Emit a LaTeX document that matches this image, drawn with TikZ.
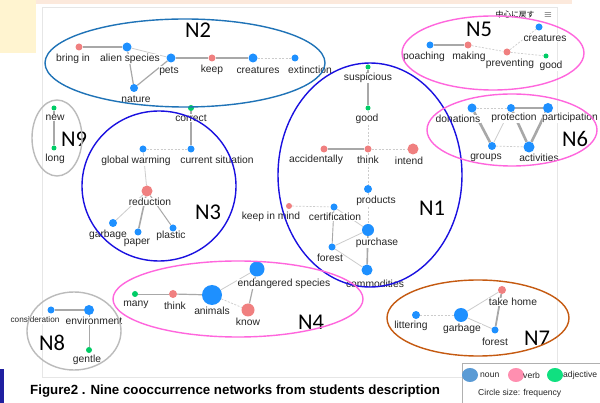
\documentclass[tikz,border=0pt]{standalone}
\usepackage{fontspec}
\setmainfont{Liberation Sans}
\newfontfamily\nfont{Carlito}
\newfontfamily\cjk{Noto Sans CJK JP}
\usetikzlibrary{shapes.geometric}
\definecolor{nblue}{HTML}{1E90FF}
\definecolor{npink}{HTML}{F08080}
\definecolor{ngreen}{HTML}{00CC66}
\definecolor{egray}{HTML}{A8A8A8}
\definecolor{elight}{HTML}{CCCCCC}
\definecolor{cN2}{HTML}{1F73B7}
\definecolor{cN1}{HTML}{1A10E0}
\definecolor{cpink}{HTML}{FF66DD}
\definecolor{cgray}{HTML}{BBBBBB}
\definecolor{cN7}{HTML}{C55A11}
\definecolor{bgpeach}{HTML}{FCE9DC}
\definecolor{bgyel}{HTML}{FFF4D0}
\definecolor{bardark}{HTML}{2020A0}
\definecolor{panelc}{HTML}{E6E6E6}
\definecolor{legc}{HTML}{B0B0B0}
\definecolor{lgblue}{HTML}{5B9BD5}
\definecolor{lgpink}{HTML}{FF8FB0}
\definecolor{lggreen}{HTML}{10E080}
\pgfdeclarelayer{back}
\pgfdeclarelayer{bg}
\pgfdeclarelayer{lab}
\pgfdeclarelayer{front}
\pgfsetlayers{back,bg,lab,main,front}
\tikzset{
  dot/.style={circle,fill=#1,draw=none,inner sep=0pt},
  lbl/.style={inner sep=0.6pt,fill=white,font=\fontsize{10.3}{11}\selectfont,text=black!85},
  lgl/.style={inner sep=0pt,font=\fontsize{8.6}{9}\selectfont,text=black!85},
  nlab/.style={inner sep=0pt,font=\nfont\fontsize{22.5}{23}\selectfont},
  eg/.style={draw=egray,line width=1.2pt},
  ethick/.style={draw=egray,line width=2.6pt},
  ed/.style={draw=elight,line width=0.7pt,dash pattern=on 2pt off 1.5pt},
  el/.style={draw=elight,line width=0.8pt},
  grp/.style={line width=1.4pt},
  lgdot/.style={ellipse,fill=#1,minimum width=16pt,minimum height=14pt,inner sep=0pt}
}
\begin{document}
\begin{tikzpicture}[x=1pt,y=-1pt]
\useasboundingbox (0,0) rectangle (600,403);
\begin{pgfonlayer}{back}
\fill[white] (0,0) rectangle (600,403);
\fill[bgpeach] (0,0) rectangle (572,4);
\fill[bgyel] (0,0) rectangle (36,53);
\fill[bardark] (0,369) rectangle (4,403);
\draw[panelc,line width=0.6pt] (42,377) |- (557,7) -- (557,363);
\draw[panelc,line width=0.6pt] (42,377) -- (462,377);
\end{pgfonlayer}
\node[inner sep=0pt,font=\cjk\fontsize{7.8}{8}\selectfont] (back) at (515,15) {中心に戻す};
\node[inner sep=0pt,font=\fontsize{10}{10}\selectfont] (menu) at (548,15) {$\equiv$};

% ---------- group outlines ----------
\begin{pgfonlayer}{front}
\draw[cN2,grp] (185,63) ellipse [x radius=140,y radius=44];
\draw[cgray,grp] (57,138) ellipse [x radius=25,y radius=38];
\draw[cN1,grp] (159,186) ellipse [x radius=77,y radius=75];
\draw[cN1,grp] (370,175) ellipse [x radius=92,y radius=112];
\draw[cpink,grp] (493,53) ellipse [x radius=91,y radius=37];
\draw[cpink,grp] (512,130) ellipse [x radius=85,y radius=36];
\draw[cpink,grp] (238,299) ellipse [x radius=125,y radius=38];
\draw[cgray,grp] (74,331) ellipse [x radius=47,y radius=39];
\draw[cN7,grp] (478,318) ellipse [x radius=91,y radius=38];
\end{pgfonlayer}

% ---------- N2 ----------
\node[nlab] (N2) at (198,30) {N2};
\node[dot=npink,minimum size=7pt] (bi) at (79,47) {};
\node[dot=nblue,minimum size=9pt] (as) at (127,47) {};
\node[dot=nblue,minimum size=9pt] (pets) at (171,58) {};
\node[dot=npink,minimum size=7pt] (keep) at (212,58) {};
\node[dot=nblue,minimum size=9pt] (cre2) at (253,58) {};
\node[dot=nblue,minimum size=7pt] (ext) at (295,58) {};
\node[dot=nblue,minimum size=8pt] (nat) at (134,88) {};
\begin{pgfonlayer}{lab}
\node[lbl] (bi-l) at (73,59) {bring in};
\node[lbl] (as-l) at (130,59) {alien species};
\node[lbl] (pets-l) at (169,71) {pets};
\node[lbl] (keep-l) at (212,70) {keep};
\node[lbl] (cre2-l) at (258,70) {creatures};
\node[lbl] (ext-l) at (310,70) {extinction};
\node[lbl] (nat-l) at (136,99) {nature};
\end{pgfonlayer}
\begin{pgfonlayer}{bg}
\draw[eg] (bi) -- (as);
\draw[el] (as) -- (pets);
\draw[eg] (as) -- (nat);
\draw[eg] (nat) -- (pets);
\draw[eg] (pets) -- (keep);
\draw[eg] (keep) -- (cre2);
\draw[ed] (cre2) -- (ext);
\end{pgfonlayer}

% ---------- N9 ----------
\node[nlab] (N9) at (74,139) {N9};
\node[dot=ngreen,minimum size=5pt] (new) at (54,108) {};
\node[dot=ngreen,minimum size=5pt] (long) at (54,148) {};
\begin{pgfonlayer}{lab}
\node[lbl] (new-l) at (55,118) {new};
\node[lbl] (long-l) at (55,159) {long};
\end{pgfonlayer}
\begin{pgfonlayer}{bg}
\draw[ethick] (new) -- (long);
\end{pgfonlayer}

% ---------- N3 ----------
\node[nlab] (N3) at (208,212) {N3};
\node[dot=ngreen,minimum size=6pt] (cor) at (191,108) {};
\node[dot=nblue,minimum size=7pt] (cs) at (191,149) {};
\node[dot=nblue,minimum size=7pt] (gw) at (143,149) {};
\node[dot=npink,minimum size=11pt] (red) at (147,191) {};
\node[dot=nblue,minimum size=8pt] (gar3) at (113,223) {};
\node[dot=nblue,minimum size=7pt] (pap) at (138,232) {};
\node[dot=nblue,minimum size=7pt] (pla) at (173,228) {};
\begin{pgfonlayer}{lab}
\node[lbl] (cor-l) at (191,118) {correct};
\node[lbl] (cs-l) at (217,160) {current situation};
\node[lbl] (gw-l) at (136,161) {global warming};
\node[lbl] (red-l) at (150,202) {reduction};
\node[lbl] (gar3-l) at (108,235) {garbage};
\node[lbl] (pap-l) at (137,243) {paper};
\node[lbl] (pla-l) at (171,236) {plastic};
\end{pgfonlayer}
\begin{pgfonlayer}{bg}
\draw[eg] (cor) -- (cs);
\draw[ed] (gw) -- (cs);
\draw[el] (gw) -- (red);
\draw[el] (red) -- (gar3);
\draw[eg,line width=1.6pt] (red) -- (pap);
\draw[eg,line width=1pt] (red) -- (pla);
\end{pgfonlayer}

% ---------- N1 ----------
\node[nlab] (N1) at (432,208) {N1};
\node[dot=ngreen,minimum size=5pt] (sus) at (368,67) {};
\node[dot=ngreen,minimum size=5pt] (good1) at (368,108) {};
\node[dot=npink,minimum size=7pt] (acc) at (324,149) {};
\node[dot=npink,minimum size=7pt] (thk1) at (368,149) {};
\node[dot=npink,minimum size=11pt] (int) at (413,149) {};
\node[dot=nblue,minimum size=8pt] (prod) at (368,189) {};
\node[dot=npink,minimum size=6pt] (kim) at (289,206) {};
\node[dot=nblue,minimum size=7pt] (cert) at (334,207) {};
\node[dot=nblue,minimum size=12pt] (pur) at (368,230) {};
\node[dot=nblue,minimum size=7pt] (for1) at (332,247) {};
\node[dot=nblue,minimum size=11pt] (com) at (367,270) {};
\begin{pgfonlayer}{lab}
\node[lbl] (sus-l) at (368,78) {suspicious};
\node[lbl] (good1-l) at (367,119) {good};
\node[lbl] (acc-l) at (316,160) {accidentally};
\node[lbl] (thk1-l) at (368,160) {think};
\node[lbl] (int-l) at (409,161) {intend};
\node[lbl] (prod-l) at (376,201) {products};
\node[lbl] (kim-l) at (271,217) {keep in mind};
\node[lbl] (cert-l) at (335,217) {certification};
\node[lbl] (pur-l) at (377,243) {purchase};
\node[lbl] (for1-l) at (330,258) {forest};
\node[lbl] (com-l) at (375,284) {commodities};
\end{pgfonlayer}
\begin{pgfonlayer}{bg}
\draw[ethick] (sus) -- (good1);
\draw[ed] (good1) -- (thk1);
\draw[eg] (acc) -- (thk1);
\draw[ed] (thk1) -- (int);
\draw[ed] (thk1) -- (prod);
\draw[ed] (kim) -- (cert);
\draw[ed] (prod) -- (pur);
\draw[el] (cert) -- (pur);
\draw[eg,line width=0.9pt] (cert) -- (for1);
\draw[el] (for1) -- (pur);
\draw[el] (for1) -- (com);
\draw[eg,line width=1.6pt] (pur) -- (com);
\end{pgfonlayer}

% ---------- N5 ----------
\node[nlab] (N5) at (479,29) {N5};
\node[dot=nblue,minimum size=7pt] (poa) at (430,45) {};
\node[dot=npink,minimum size=7pt] (mak) at (468,45) {};
\node[dot=npink,minimum size=7pt] (pre) at (507,52) {};
\node[dot=ngreen,minimum size=5pt] (good5) at (546,56) {};
\node[dot=nblue,minimum size=7pt] (cre5) at (539,27) {};
\begin{pgfonlayer}{lab}
\node[lbl] (poa-l) at (424,57) {poaching};
\node[lbl] (mak-l) at (469,57) {making};
\node[lbl] (pre-l) at (510,64) {preventing};
\node[lbl] (good5-l) at (551,66) {good};
\node[lbl] (cre5-l) at (545,38) {creatures};
\end{pgfonlayer}
\begin{pgfonlayer}{bg}
\draw[eg] (poa) -- (mak);
\draw[ed] (mak) -- (pre);
\draw[ed] (pre) -- (cre5);
\draw[ed] (pre) -- (good5);
\end{pgfonlayer}

% ---------- N6 ----------
\node[nlab] (N6) at (575,139) {N6};
\node[dot=nblue,minimum size=9pt] (don) at (472,108) {};
\node[dot=nblue,minimum size=8pt] (prot) at (511,108) {};
\node[dot=nblue,minimum size=10pt] (part) at (548,108) {};
\node[dot=nblue,minimum size=8pt] (grp6) at (492,146) {};
\node[dot=nblue,minimum size=11pt] (act) at (529,147) {};
\begin{pgfonlayer}{lab}
\node[lbl] (don-l) at (458,119) {donations};
\node[lbl] (prot-l) at (514,118) {protection};
\node[lbl] (part-l) at (570,118) {participation};
\node[lbl] (grp6-l) at (486,158) {groups};
\node[lbl] (act-l) at (539,158) {activities};
\end{pgfonlayer}
\begin{pgfonlayer}{bg}
\draw[ed] (don) -- (prot);
\draw[eg] (prot) -- (part);
\draw[ethick] (don) -- (grp6);
\draw[el] (prot) -- (grp6);
\draw[ed] (grp6) -- (act);
\draw[ethick] (prot) -- (act);
\draw[ethick] (part) -- (act);
\end{pgfonlayer}

% ---------- N4 ----------
\node[nlab] (N4) at (311,322) {N4};
\node[dot=ngreen,minimum size=6pt] (many) at (135,294) {};
\node[dot=npink,minimum size=8pt] (thk4) at (173,294) {};
\node[dot=nblue,minimum size=20pt] (ani) at (212,295) {};
\node[dot=nblue,minimum size=15pt] (end) at (257,269) {};
\node[dot=npink,minimum size=13pt] (know) at (248,310) {};
\begin{pgfonlayer}{lab}
\node[lbl] (many-l) at (136,305) {many};
\node[lbl] (thk4-l) at (175,306) {think};
\node[lbl] (ani-l) at (212,311) {animals};
\node[lbl] (end-l) at (284,284) {endangered species};
\node[lbl] (know-l) at (248,322) {know};
\end{pgfonlayer}
\begin{pgfonlayer}{bg}
\draw[eg,line width=0.8pt] (many) -- (thk4);
\draw[eg] (thk4) -- (ani);
\draw[el] (ani) -- (end);
\draw[ed] (ani) -- (know);
\draw[eg] (end) -- (know);
\end{pgfonlayer}

% ---------- N8 ----------
\node[nlab] (N8) at (52,343) {N8};
\node[dot=nblue,minimum size=7pt] (cons) at (51,310) {};
\node[dot=nblue,minimum size=10pt] (env) at (89,310) {};
\node[dot=ngreen,minimum size=6pt] (gen) at (89,350) {};
\begin{pgfonlayer}{lab}
\node[lbl,font=\fontsize{8.2}{9}\selectfont] (cons-l) at (35,320) {consideration};
\node[lbl] (env-l) at (94,321) {environment};
\node[lbl] (gen-l) at (87,360) {gentle};
\end{pgfonlayer}
\begin{pgfonlayer}{bg}
\draw[ethick,line width=2pt] (cons) -- (env);
\draw[eg,line width=0.8pt] (env) -- (gen);
\end{pgfonlayer}

% ---------- N7 ----------
\node[nlab] (N7) at (537,338) {N7};
\node[dot=nblue,minimum size=8pt] (lit) at (416,315) {};
\node[dot=nblue,minimum size=14pt] (gar7) at (461,315) {};
\node[dot=npink,minimum size=8pt] (th) at (502,290) {};
\node[dot=nblue,minimum size=7pt] (for7) at (495,330) {};
\begin{pgfonlayer}{lab}
\node[lbl] (lit-l) at (411,326) {littering};
\node[lbl] (gar7-l) at (462,329) {garbage};
\node[lbl] (th-l) at (513,302) {take home};
\node[lbl] (for7-l) at (495,342) {forest};
\end{pgfonlayer}
\begin{pgfonlayer}{bg}
\draw[ed] (lit) -- (gar7);
\draw[el] (gar7) -- (th);
\draw[el] (gar7) -- (for7);
\draw[eg,line width=1.8pt] (th) -- (for7);
\end{pgfonlayer}

% ---------- caption and legend ----------
\node[anchor=west,inner sep=0pt,font=\bfseries\fontsize{13.3}{14}\selectfont] (cap) at (30,391) {Figure2 . Nine cooccurrence networks from students description};
\draw[legc,line width=0.6pt] (602,363) -| (462,405);
\node[lgdot=lgblue] (lgn) at (470,375) {};
\node[lgdot=lgpink] (lgv) at (516,375) {};
\node[lgdot=lggreen] (lga) at (555,375) {};
\node[lgl,anchor=west] (lgn-l) at (480,375) {noun};
\node[lgl,anchor=west] (lgv-l) at (523,375) {verb};
\node[lgl,anchor=west] (lga-l) at (563,375) {adjective};
\node[lgl,anchor=west] (lgs) at (478,393) {Circle size: frequency};
\end{tikzpicture}
\end{document}
